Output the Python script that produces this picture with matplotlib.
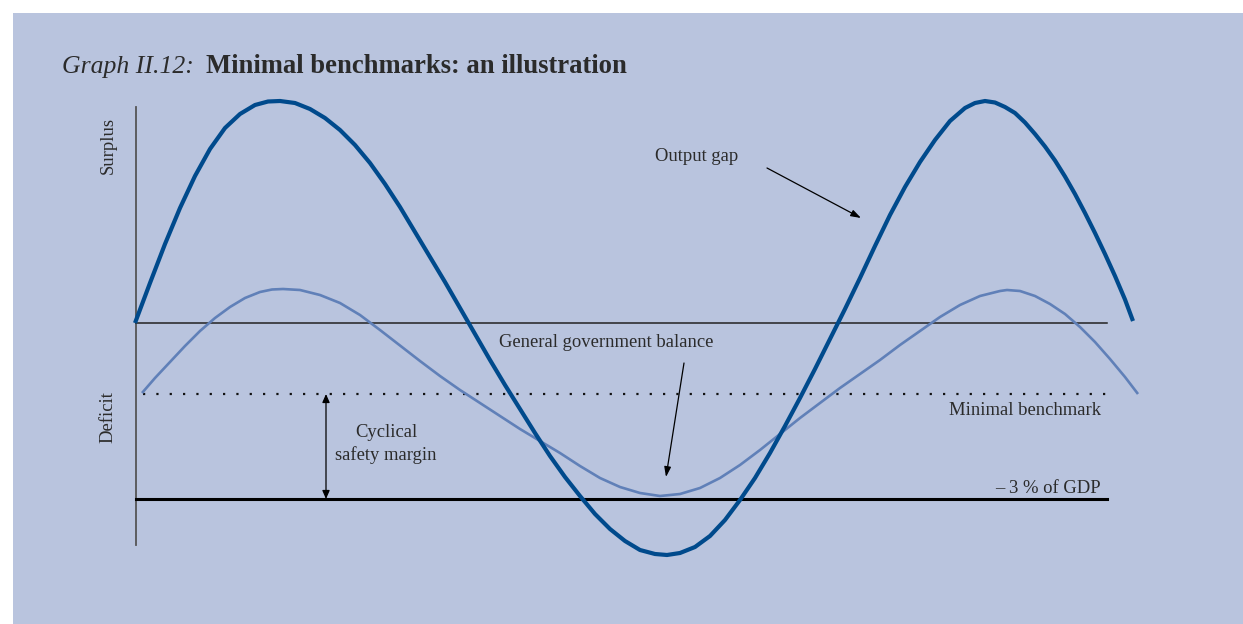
"""Graph II.12: minimal benchmarks, an illustration."""

import matplotlib
matplotlib.use("Agg")
import matplotlib.pyplot as plt
from matplotlib.patches import Rectangle

plt.rcParams["font.family"] = ["Liberation Serif", "DejaVu Serif"]

# curves: x position, height above the zero line
gap_x = [135, 150, 165, 180, 195, 210, 225, 240, 255, 268, 280,
         295, 310, 325, 340, 355, 370, 385, 400, 415, 430, 445, 460, 475,
         490, 505, 520, 535, 550, 565, 580, 595, 610, 625, 640, 655, 667,
         680, 695, 710, 725, 740, 755, 770, 785, 800, 815, 830, 845, 860,
         875, 890, 905, 920, 935, 950, 965, 975, 985,
         995, 1005, 1015, 1025, 1035, 1045, 1055, 1065, 1075, 1085, 1095,
         1105, 1115, 1125, 1133]
gap_y = [0, 40, 79, 115, 147, 174, 195, 209, 218, 221.5, 222,
         220, 214, 205, 193, 178, 160, 139, 116, 91, 66, 41, 15, -11,
         -37, -62, -86, -110, -133, -154, -173, -191, -206, -218, -227, -231, -232,
         -230, -224, -213, -197, -177, -155, -130, -103, -75, -46, -16, 14, 45,
         77, 108, 136, 161, 183, 202, 215, 220, 222,
         220.5, 216, 210, 200.5, 189, 176.5, 162.5, 146.5, 129, 110, 90,
         69, 47, 23.5, 2]

bal_x = [142, 155, 170, 185, 200, 215, 230, 245, 260, 272, 283,
         300, 320, 340, 360, 380, 400, 420, 440, 460, 480, 500, 520, 540,
         560, 580, 600, 620, 640, 660,
         680, 700, 720, 740, 760, 780, 800, 820, 840, 860, 880, 900, 920,
         940, 960, 980, 1000, 1007,
         1020, 1035, 1050, 1065, 1080, 1095, 1110, 1125, 1138]
bal_y = [-70, -55, -39, -23, -8, 5, 16, 25, 31, 33.5, 34,
         33, 28, 20, 8, -7, -22.5, -38, -53, -67, -80, -93, -106, -118,
         -130, -143, -155, -164, -170, -173,
         -171, -165, -155, -142, -127, -111, -95, -80, -65, -51, -37, -22, -8,
         6, 18, 27, 32, 33,
         32, 27, 19, 9, -4, -19, -36, -54, -71]

benchmark = -71
limit_3pc = -176
x_start, x_end = 136, 1107

BG = "#B9C4DE"
DARK = "#004A8C"
LIGHT = "#6080B8"
TXT = "#2b2b2b"

W, H = 1243, 624
fig = plt.figure(figsize=(W / 100, H / 100), dpi=100)
fig.patch.set_facecolor("white")
fig.patches.append(Rectangle((13 / W, 0), (W - 13) / W, (H - 13) / H,
                             transform=fig.transFigure, facecolor=BG,
                             edgecolor="none", zorder=-5))

ax = fig.add_axes([0, 0, 1, 1])
ax.set_xlim(0, W)
ax.set_ylim(323 - H, 323)
ax.axis("off")
ax.patch.set_alpha(0)

# axes lines
ax.plot([x_start, x_start], [323 - 107, 323 - 545], color="#555555", lw=1.3)
ax.plot([x_start, x_end], [0, 0], color="#222222", lw=1.1)
ax.plot([143, 1110], [benchmark, benchmark], color="#111111", lw=1.6,
        linestyle=(0, (1, 5.0)), dash_capstyle="butt")
ax.plot([x_start, x_end], [limit_3pc, limit_3pc], color="black", lw=2.2)

# curves
ax.plot(bal_x, bal_y, color=LIGHT, lw=1.9, solid_capstyle="butt",
        solid_joinstyle="round")
ax.plot(gap_x, gap_y, color=DARK, lw=3.0, solid_capstyle="butt",
        solid_joinstyle="round")

# safety margin arrow
ax.annotate("", xy=(326, limit_3pc), xytext=(326, benchmark),
            arrowprops=dict(arrowstyle="<|-|>,head_length=0.5,head_width=0.22",
                            color="black", lw=0.9, shrinkA=0, shrinkB=0))

# text
fs = 13.4
ax.text(62, 323 - 73, "Graph II.12:", fontsize=18.5, style="italic",
        color=TXT, va="baseline")
ax.text(206, 323 - 73, "Minimal benchmarks: an illustration", fontsize=19.2,
        weight="bold", color=TXT, va="baseline")
ax.text(108, 323 - 145, "Surplus", fontsize=fs, rotation=90, color=TXT,
        ha="center", va="center")
ax.text(108, 323 - 417, "Deficit", fontsize=fs, rotation=90, color=TXT,
        ha="center", va="center")
ax.text(386, 323 - 437, "Cyclical", fontsize=fs, color=TXT, ha="center",
        va="baseline")
ax.text(386, 323 - 460, "safety margin", fontsize=fs, color=TXT, ha="center",
        va="baseline")
ax.text(1101, 323 - 415, "Minimal benchmark", fontsize=fs, color=TXT,
        ha="right", va="baseline")
ax.text(1101, 323 - 493, "\u2013 3 % of GDP", fontsize=fs, color=TXT,
        ha="right", va="baseline")
ax.text(655, 323 - 161, "Output gap", fontsize=fs, color=TXT, va="baseline")
ax.text(499, 323 - 347, "General government balance", fontsize=fs, color=TXT,
        va="baseline")

arrow = dict(arrowstyle="-|>,head_length=0.6,head_width=0.2", color="black",
             lw=0.9, shrinkA=0, shrinkB=0)
ax.annotate("", xy=(861, 323 - 218), xytext=(767, 323 - 168), arrowprops=arrow)
ax.annotate("", xy=(666, 323 - 477), xytext=(684, 323 - 363), arrowprops=arrow)

fig.savefig("out.png", dpi=100)
